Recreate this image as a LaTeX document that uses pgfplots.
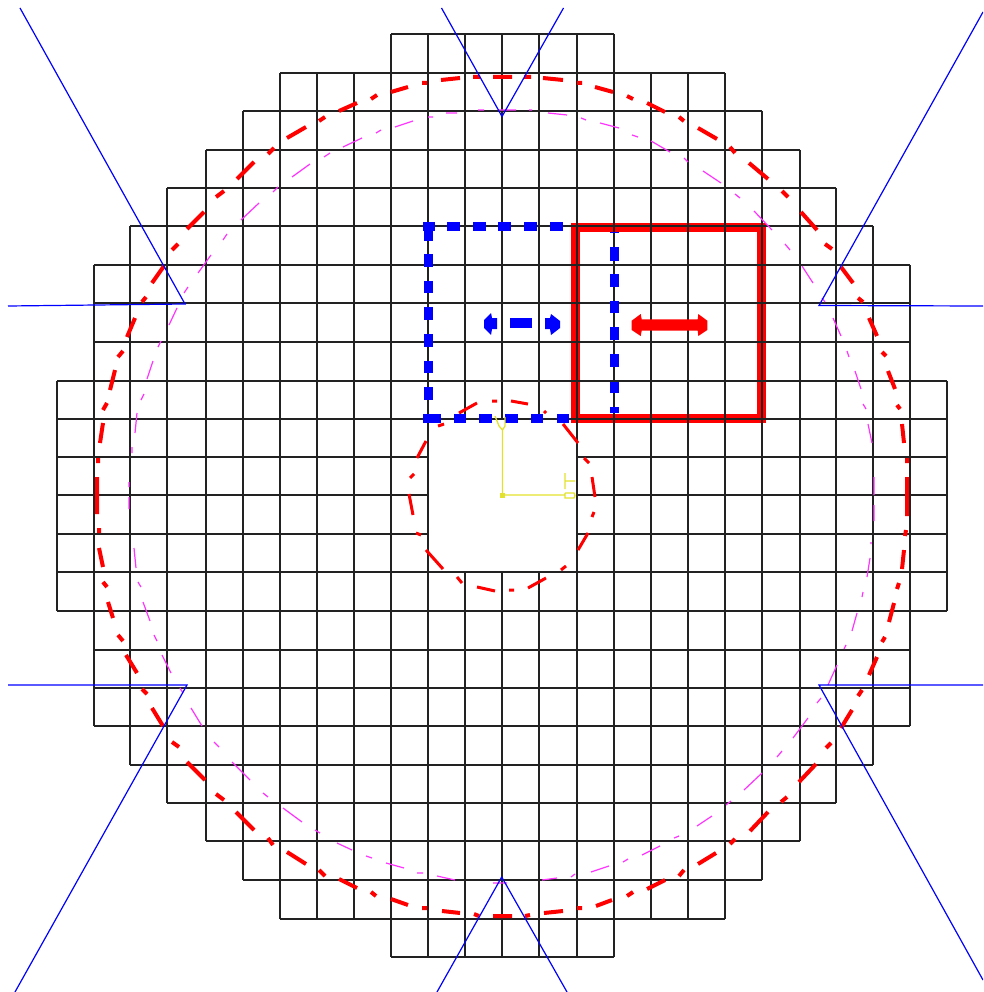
\documentclass[border=0pt]{standalone}
\usepackage{pgfplots}
\pgfplotsset{compat=1.18}
\definecolor{gridk}{HTML}{222222}
\definecolor{cadyellow}{HTML}{E2E22E}
\definecolor{cadmag}{HTML}{FF33FF}

\begin{document}
\begin{tikzpicture}
\useasboundingbox (0,0) rectangle (983pt,992pt);
\begin{axis}[
    at={(0,0)},
    anchor=south west,
    width=983pt, height=992pt,
    scale only axis,
    hide axis,
    xmin=0, xmax=983,
    ymin=0, ymax=992,
    y dir=reverse,
    no markers,
    unbounded coords=jump,
]
% thick red square
\addplot[red, line width=9pt, line join=miter, forget plot] coordinates {
    (575.5,227.5)(761.5,227.5)(761.5,418)(575.5,418)(575.5,227.5)(761.5,227.5)};

% mesh, line by line: horizontals then verticals
\addplot[gridk, line width=1.3pt, forget plot] coordinates {
    (391,34)(614,34)(nan,nan)
    (280,73)(725,73)(nan,nan)
    (243,111)(762,111)(nan,nan)
    (206,150)(800,150)(nan,nan)
    (167,188)(836,188)(nan,nan)
    (130,226)(873,226)(nan,nan)
    (94,265)(910,265)(nan,nan)
    (94,303)(910,303)(nan,nan)
    (94,342)(910,342)(nan,nan)
    (57,381)(947,381)(nan,nan)
    (57,419)(947,419)(nan,nan)
    (57,457)(428,457)(nan,nan)
    (577,457)(947,457)(nan,nan)
    (57,495)(428,495)(nan,nan)
    (577,495)(947,495)(nan,nan)
    (57,534)(428,534)(nan,nan)
    (577,534)(947,534)(nan,nan)
    (57,572)(947,572)(nan,nan)
    (57,611)(947,611)(nan,nan)
    (94,650)(910,650)(nan,nan)
    (94,688)(910,688)(nan,nan)
    (94,726)(910,726)(nan,nan)
    (130,765)(873,765)(nan,nan)
    (167,803)(836,803)(nan,nan)
    (206,841)(800,841)(nan,nan)
    (243,880)(762,880)(nan,nan)
    (280,919)(725,919)(nan,nan)
    (391,957)(614,957)(nan,nan)
    (57,381)(57,611)(nan,nan)
    (94,265)(94,726)(nan,nan)
    (130,226)(130,765)(nan,nan)
    (167,188)(167,803)(nan,nan)
    (206,150)(206,841)(nan,nan)
    (243,111)(243,880)(nan,nan)
    (280,73)(280,919)(nan,nan)
    (317,73)(317,919)(nan,nan)
    (354,73)(354,919)(nan,nan)
    (391,34)(391,957)(nan,nan)
    (428,34)(428,957)(nan,nan)
    (465,34)(465,419)(nan,nan)
    (465,572)(465,957)(nan,nan)
    (502,34)(502,419)(nan,nan)
    (502,572)(502,957)(nan,nan)
    (539,34)(539,419)(nan,nan)
    (539,572)(539,957)(nan,nan)
    (577,34)(577,957)(nan,nan)
    (614,34)(614,957)(nan,nan)
    (651,73)(651,919)(nan,nan)
    (688,73)(688,919)(nan,nan)
    (725,73)(725,919)(nan,nan)
    (762,111)(762,880)(nan,nan)
    (800,150)(800,841)(nan,nan)
    (836,188)(836,803)(nan,nan)
    (873,226)(873,765)(nan,nan)
    (910,265)(910,726)(nan,nan)
    (947,381)(947,611)
};

% blue dashed square, dash by dash
\addplot[blue, line width=9pt, forget plot] coordinates {
    (423,227)(435,227)(nan,nan)(447.3,227)(460,227)(nan,nan)(473,227)(486,227)(nan,nan)
    (498,227)(511,227)(nan,nan)(524,227)(537,227)(nan,nan)(550,227)(563,227)(nan,nan)
    (428,226.7)(428,240.7)(nan,nan)(428,254)(428,267)(nan,nan)(428,281)(428,293)(nan,nan)
    (428,307)(428,320)(nan,nan)(428,334)(428,347)(nan,nan)(428,361)(428,373)(nan,nan)
    (428,387)(428,400)(nan,nan)
    (423,418)(441,418)(nan,nan)(454,418)(466,418)(nan,nan)(479,418)(492,418)(nan,nan)
    (505,418)(518,418)(nan,nan)(531,418)(543,418)(nan,nan)(557,418)(569,418)(nan,nan)
    (614,232)(614,233)(nan,nan)(614,247)(614,261)(nan,nan)(614,274)(614,287)(nan,nan)
    (614,301)(614,313)(nan,nan)(614,327)(614,340)(nan,nan)(614,354)(614,367)(nan,nan)
    (614,382)(614,393)(nan,nan)(614,407)(614,413)
};

% double arrows
\addplot[blue, fill=blue, draw=none, forget plot] coordinates {
    (484,320)(491,313)(492,318)(497,318)(497,329)(492,329)(491,335)(484,328)} --cycle;
\addplot[blue, fill=blue, draw=none, forget plot] coordinates {
    (510,318)(532,318)(532,328)(510,328)} --cycle;
\addplot[blue, fill=blue, draw=none, forget plot] coordinates {
    (545,318)(550,318)(551,314)(560,321)(560,328)(551,335)(550,329)(545,329)} --cycle;
\addplot[red, fill=red, draw=none, forget plot] coordinates {
    (631.7,320.7)(640.7,314)(641.7,319.3)(697.7,319.3)(698.3,314)(707.3,320.7)
    (707.3,330)(698.3,336)(697.7,330.7)(641.7,330.7)(640.7,336)(631.7,330)} --cycle;

% magenta circle, dash by dash, clockwise from the left
\addplot[cadmag, line width=1.2pt, forget plot] coordinates {
    (129,482)(129,487)(nan,nan)(129,497)(129,509)(nan,nan)
    (132,447)(132,453)(nan,nan)(135,433)(137,413)(nan,nan)(141,400)(144,394)(nan,nan)
    (147,379)(153,361)(nan,nan)(158,347)(161,341)(nan,nan)(169,325)(177,308)(nan,nan)
    (184,293)(188,287)(nan,nan)(198,273)(211,255)(nan,nan)(223,240)(227,234)(nan,nan)
    (241,220)(259,203)(nan,nan)(273,192)(278,187)(nan,nan)(292,177)(310,164)(nan,nan)
    (324,157)(330,153)(nan,nan)(343,147)(362,138)(nan,nan)(376,133)(381,130)(nan,nan)
    (395,127)(413,121)(nan,nan)(428,117)(433,117)(nan,nan)(446,113)(457,113)(nan,nan)
    (478,110)(484,110)(nan,nan)(498,110)(516,110)(nan,nan)(529,110)(532,110)(nan,nan)
    (548,113)(567,115)(nan,nan)(581,118)(586,120)(nan,nan)(600,123)(619,128)(nan,nan)
    (632,135)(638,137)(nan,nan)(651,141)(670,152)(nan,nan)(684,158)(688,162)(nan,nan)
    (703,171)(721,183)(nan,nan)(735,194)(740,198)(nan,nan)(754,211)(772,230)(nan,nan)
    (785,244)(790,250)(nan,nan)(802,266)(813,283)(nan,nan)(822,298)(825,302)(nan,nan)
    (833,318)(841,336)(nan,nan)(847,351)(849,357)(nan,nan)(855,371)(861,389)(nan,nan)
    (863,404)(866,409)(nan,nan)(868,424)(872,443)(nan,nan)(874,477)(874,495)(nan,nan)
    (874,505)(874,521)(nan,nan)(871,542)(871,544)(nan,nan)(870,558)(867,577)(nan,nan)
    (863,592)(862,597)(nan,nan)(857,613)(852,631)(nan,nan)(846,645)(844,649)(nan,nan)
    (837,665)(828,685)(nan,nan)(821,698)(817,703)(nan,nan)(808,718)(793,738)(nan,nan)
    (782,751)(777,757)(nan,nan)(762,773)(744,790)(nan,nan)(731,801)(726,805)(nan,nan)
    (712,816)(697,826)(nan,nan)(679,836)(674,838)(nan,nan)(660,846)(642,855)(nan,nan)
    (628,859)(623,862)(nan,nan)(609,866)(591,872)(nan,nan)(575,874)(571,877)(nan,nan)
    (557,878)(542,880)(nan,nan)(507,883)(493,883)(nan,nan)(455,880)(437,876)(nan,nan)
    (423,873)(417,873)(nan,nan)(404,868)(386,863)(nan,nan)(372,858)(366,856)(nan,nan)
    (352,850)(337,843)(nan,nan)(320,833)(315,830)(nan,nan)(302,822)(283,808)(nan,nan)
    (268,797)(263,793)(nan,nan)(250,780)(232,762)(nan,nan)(219,747)(214,742)(nan,nan)
    (202,726)(191,708)(nan,nan)(183,693)(180,688)(nan,nan)(171,673)(162,655)(nan,nan)
    (157,641)(154,635)(nan,nan)(150,621)(143,602)(nan,nan)(141,587)(138,582)(nan,nan)
    (136,568)(134,548)
};

% red outer circle, dash by dash, clockwise from the left
\addplot[red, line width=4pt, forget plot] coordinates {
    (97,477)(97,514)(nan,nan)(98,458)(98,463)(nan,nan)(100,443)(103,423)(nan,nan)
    (103,410)(107,403)(nan,nan)(110,390)(115,370)(nan,nan)(118,357)(123,351)(nan,nan)
    (127,337)(135,318)(nan,nan)(142,302)(146,297)(nan,nan)(152,283)(164,266)(nan,nan)
    (172,250)(178,244)(nan,nan)(187,229)(204,212)(nan,nan)(216,197)(224,191)(nan,nan)
    (237,179)(254,162)(nan,nan)(268,154)(274,148)(nan,nan)(287,138)(306,127)(nan,nan)
    (319,121)(325,117)(nan,nan)(339,111)(357,103)(nan,nan)(371,99)(377,95)(nan,nan)
    (391,92)(408,87)(nan,nan)(422,83)(427,83)(nan,nan)(441,80)(460,78)(nan,nan)
    (473,77)(480,77)(nan,nan)(493,77)(512,77)(nan,nan)(524,77)(531,77)(nan,nan)
    (543,78)(563,80)(nan,nan)(577,83)(582,83)(nan,nan)(595,87)(613,92)(nan,nan)
    (627,96)(633,99)(nan,nan)(647,103)(665,112)(nan,nan)(679,117)(684,121)(nan,nan)
    (698,128)(717,139)(nan,nan)(730,147)(735,153)(nan,nan)(749,163)(768,179)(nan,nan)
    (782,191)(788,197)(nan,nan)(801,212)(817,230)(nan,nan)(825,244)(832,249)(nan,nan)
    (841,267)(853,283)(nan,nan)(858,298)(863,302)(nan,nan)(869,318)(877,336)(nan,nan)
    (882,352)(886,356)(nan,nan)(888,371)(895,389)(nan,nan)(897,405)(900,409)(nan,nan)
    (902,424)(904,443)(nan,nan)(907,458)(907,463)(nan,nan)(907,477)(907,516)(nan,nan)
    (906,530)(905,536)(nan,nan)(904,550)(902,569)(nan,nan)(899,583)(897,589)(nan,nan)
    (894,603)(889,622)(nan,nan)(885,637)(882,642)(nan,nan)(877,657)(869,675)(nan,nan)
    (862,690)(858,696)(nan,nan)(852,710)(841,728)(nan,nan)(831,743)(826,748)(nan,nan)
    (816,764)(799,782)(nan,nan)(787,797)(781,802)(nan,nan)(768,812)(750,831)(nan,nan)
    (735,839)(730,844)(nan,nan)(716,853)(698,864)(nan,nan)(684,870)(679,876)(nan,nan)
    (665,880)(647,889)(nan,nan)(633,892)(627,896)(nan,nan)(612,900)(596,906)(nan,nan)
    (582,908)(577,908)(nan,nan)(563,911)(544,913)(nan,nan)(530,915)(525,916)(nan,nan)
    (512,916)(493,916)(nan,nan)(479,916)(474,914)(nan,nan)(460,913)(442,911)(nan,nan)
    (427,908)(422,908)(nan,nan)(408,905)(391,899)(nan,nan)(376,896)(371,892)(nan,nan)
    (357,888)(339,879)(nan,nan)(325,876)(319,870)(nan,nan)(306,864)(287,852)(nan,nan)
    (273,845)(268,838)(nan,nan)(254,830)(236,812)(nan,nan)(224,800)(216,794)(nan,nan)
    (205,780)(187,762)(nan,nan)(179,747)(172,742)(nan,nan)(163,726)(152,708)(nan,nan)
    (147,694)(142,689)(nan,nan)(137,673)(126,655)(nan,nan)(123,641)(118,635)(nan,nan)
    (113,618)(108,602)(nan,nan)(107,587)(103,582)(nan,nan)(103,567)(99,548)(nan,nan)
    (99,533)(99,528)
};

% red hole circle, dash by dash
\addplot[red, line width=3pt, forget plot] coordinates {
    (492,401)(497,401)(nan,nan)(511,401)(528,404)(nan,nan)(544,411)(546,413)(nan,nan)
    (563,424)(578,443)(nan,nan)(584,458)(589,463)(nan,nan)(592,477)(595,497)(nan,nan)
    (592,517)(594,512)(nan,nan)(588,533)(578,550)(nan,nan)(561,570)(566,566)(nan,nan)
    (546,578)(528,588)(nan,nan)(509,590)(514,590)(nan,nan)(495,591)(477,587)(nan,nan)
    (457,577)(462,583)(nan,nan)(443,569)(426,550)(nan,nan)(416,533)(421,535)(nan,nan)
    (413,515)(409,494)(nan,nan)(410,478)(414,474)(nan,nan)(417,458)(426,441)(nan,nan)
    (438,426)(444,424)(nan,nan)(459,413)(477,403)
};

% thin blue outline
\addplot[blue, line width=1.2pt, forget plot] coordinates {
    (20,8)(185,304)(8,306)(nan,nan)
    (441.5,8)(502,116.5)(563.5,8)(nan,nan)
    (983,12)(819,305.5)(983,306)(nan,nan)
    (8,685)(187,685)(15,992)(nan,nan)
    (983,685)(819,685)(983,980)(nan,nan)
    (437,992)(501.7,877)(567,992)
};

% yellow triad in the hole
\addplot[cadyellow, line width=1.3pt, forget plot] coordinates {
    (502.5,495)(502.5,430)(nan,nan)
    (495,416)(499,426)(502.5,430)(505,426)(505,417)(nan,nan)
    (502.5,495)(565,495)(nan,nan)
    (565,493)(574,493)(575,495.5)(574,498)(565,498)(565,493)(nan,nan)
    (565,473)(565,489)(nan,nan)
    (565,481)(575,481)
};
\addplot[cadyellow, fill=cadyellow, draw=none, forget plot] coordinates {
    (500,493)(505,493)(505,498)(500,498)} --cycle;
\end{axis}
\end{tikzpicture}
\end{document}
